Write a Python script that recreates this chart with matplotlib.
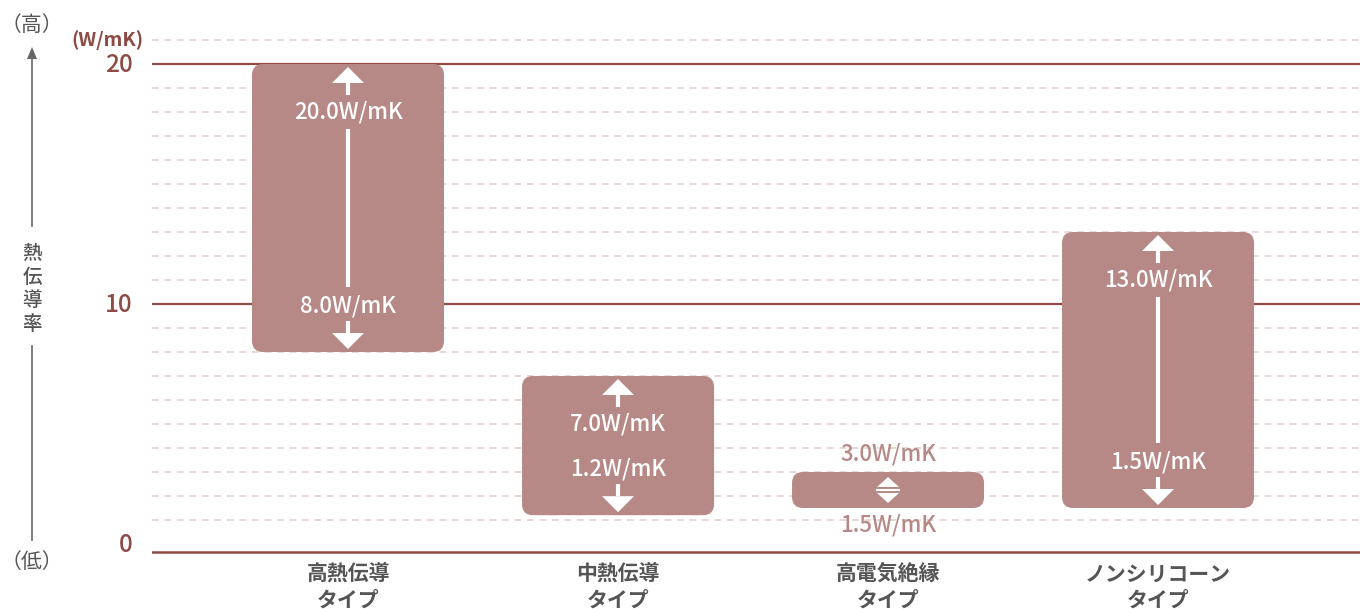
import matplotlib
matplotlib.use("Agg")
import matplotlib.pyplot as plt
from matplotlib.patches import FancyBboxPatch, Polygon
from matplotlib.lines import Line2D

plt.rcParams['font.family'] = ['Noto Sans CJK JP', 'DejaVu Sans']

# データ
categories = ['高熱伝導\nタイプ', '中熱伝導\nタイプ', '高電気絶縁\nタイプ', 'ノンシリコーン\nタイプ']
low_vals = [8.0, 1.2, 1.5, 1.5]
high_vals = [20.0, 7.0, 3.0, 13.0]
yticks = [0, 10, 20]
unit = '(W/mK)'

BAR = '#b68886'
LINE = '#8e4b45'
DASH = '#e4d1cc'
GRAY = '#555555'

W, H = 1360, 609
fig = plt.figure(figsize=(W / 100, H / 100), dpi=100)
# 軸: 左 152px から右端まで、1 W/mK = 24px
ax = fig.add_axes([152 / W, 5 / H, 1208 / W, 588 / H])
ax.set_xlim(-0.726, 3.748)
ax.set_ylim(-2.5, 22)
ax.axis('off')

PX = 1 / 270   # x方向 1px
PY = 1 / 24    # y方向 1px

# 補助線
for v in range(1, 22):
    if v in (10, 20):
        continue
    ax.axhline(v, color=DASH, lw=1.2, ls=(0, (4, 3.5)), zorder=1)
for v in (10, 20):
    ax.axhline(v, color=LINE, lw=1.6, zorder=1)
ax.axhline(-8 * PY, color=LINE, lw=1.8, zorder=1)

# 目盛ラベル
for v in yticks:
    ax.text(-0.726 - 19 * PX, v - 7.5 * PY, str(v), ha='right', va='baseline',
            color=LINE, fontsize=17.5, fontweight='medium')
ax.text(-0.726 - 8 * PX, 21 - 6 * PY, unit, ha='right', va='baseline',
        color=LINE, fontsize=14, fontweight='bold')


def head(x, tip, up, hw=16, hh=16):
    s = 1 if up else -1
    base = tip - s * hh * PY
    ax.add_patch(Polygon([(x - hw * PX, base), (x + hw * PX, base), (x, tip)],
                         closed=True, color='white', lw=0, zorder=4))
    return base


def shaft(x, y0, y1):
    ax.plot([x, x], [y0, y1], color='white', lw=3, solid_capstyle='butt', zorder=4)


bw = 192 * PX
for i, (lo, hi) in enumerate(zip(low_vals, high_vals)):
    box = FancyBboxPatch((i - bw / 2, lo), bw, hi - lo,
                         boxstyle='round,pad=0,rounding_size=%f' % (11 * PX),
                         mutation_aspect=PY / PX, fc=BAR, ec='none', zorder=3)
    ax.add_patch(box)
    if (hi - lo) / PY < 60:
        # 幅の狭いバー: ラベルは外側
        c = (hi + lo) / 2
        head(i, c + 13 * PY, True, hw=11, hh=10)
        head(i, c - 13 * PY, False, hw=11, hh=10)
        ax.plot([i - 11 * PX, i + 11 * PX], [c, c], color='white', lw=1.5, zorder=4)
        ax.text(i, hi + 19 * PY - 7.5 * PY, '%.1fW/mK' % hi, ha='center', va='baseline',
                color=BAR, fontsize=16, fontweight='medium', zorder=5)
        ax.text(i, lo - 16 * PY - 7.5 * PY, '%.1fW/mK' % lo, ha='center', va='baseline',
                color=BAR, fontsize=16, fontweight='medium', zorder=5)
        continue
    yt = hi - 47 * PY
    yb = lo + 47 * PY
    base = head(i, hi - 3 * PY, True)
    shaft(i, base, yt + 16 * PY)
    base = head(i, lo + 3 * PY, False)
    shaft(i, base, yb - 16 * PY)
    if (yt - yb) / PY > 60:
        shaft(i, yt - 18 * PY, yb + 18 * PY)
    for v, y in ((hi, yt), (lo, yb)):
        ax.text(i, y - 7.5 * PY, '%.1fW/mK' % v, ha='center', va='baseline',
                color='white', fontsize=16, fontweight='medium', zorder=5)

# カテゴリ名
for i, name in enumerate(categories):
    ax.text(i, -0.8, name, ha='center', va='top', color=GRAY,
            fontsize=15, fontweight='bold', linespacing=1.3)


# 左側の縦軸説明
def fx(x):
    return x / W


def fy(y):
    return 1 - y / H


fig.text(fx(32), fy(25), '（高）', ha='center', va='center', color=GRAY, fontsize=15)
fig.text(fx(32), fy(562), '（低）', ha='center', va='center', color=GRAY, fontsize=15)
for k, ch in enumerate('熱伝導率'):
    fig.text(fx(32), fy(253 + 24 * k), ch, ha='center', va='center', color=GRAY,
             fontsize=14, fontweight='medium')
fig.add_artist(Line2D([fx(32), fx(32)], [fy(58), fy(226)], color='#666666', lw=1.2))
fig.add_artist(Line2D([fx(32), fx(32)], [fy(346), fy(540)], color='#666666', lw=1.2))
fig.add_artist(Polygon([(fx(27), fy(59)), (fx(37), fy(59)), (fx(32), fy(47))],
                       closed=True, color='#666666', lw=0, transform=fig.transFigure))

fig.savefig('out.png', dpi=100)
